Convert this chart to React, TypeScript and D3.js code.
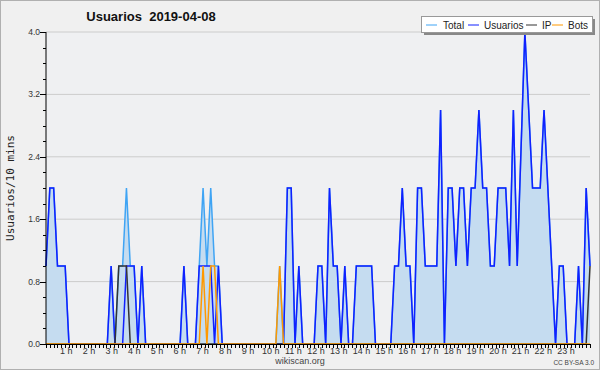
import React from "react";
import * as d3 from "d3";

const usuarios = [
  1,2,2,1,1,1,0,0,0,0,
  0,0,0,0,0,0,0,1,0,0,
  0,1,1,1,0,1,0,0,0,0,
  0,0,0,0,0,0,1,0,0,0,
  1,1,1,1,0,1,0,0,0,0,
  0,0,0,0,0,0,0,0,0,0,
  0,0,0,2,2,0,1,0,0,0,
  0,1,1,0,2,1,1,0,1,0,
  0,1,1,1,1,1,0,0,0,0,
  0,1,1,2,1,1,0,2,2,1,
  1,1,1,3,0,2,2,1,2,2,
  1,2,2,3,2,2,1,1,2,2,
  2,1,3,1,2.5,4,3,2,2,2,
  3,2,1,0,1,1,0,0,0,1,
  0,2,1,
];
const total = [
  1,2,2,1,1,1,0,0,0,0,
  0,0,0,0,0,0,0,1,0,1,
  1,2,1,1,0,1,0,0,0,0,
  0,0,0,0,0,0,1,0,0,0,
  1,2,1,2,1,1,0,0,0,0,
  0,0,0,0,0,0,0,0,0,0,
  0,1,0,2,2,0,1,0,0,0,
  0,1,1,0,2,1,1,0,1,0,
  0,1,1,1,1,1,0,0,0,0,
  0,1,1,2,1,1,0,2,2,1,
  1,1,1,3,0,2,2,1,2,2,
  1,2,2,3,2,2,1,1,2,2,
  2,1,3,1,2.5,4,3,2,2,2,
  3,2,1,0,1,1,0,0,0,1,
  0,2,1,
];
const ip = [
  0,0,0,0,0,0,0,0,0,0,
  0,0,0,0,0,0,0,0,0,1,
  1,1,0,0,0,0,0,0,0,0,
  0,0,0,0,0,0,0,0,0,0,
  0,0,0,0,0,0,0,0,0,0,
  0,0,0,0,0,0,0,0,0,0,
  0,0,0,0,0,0,0,0,0,0,
  0,0,0,0,0,0,0,0,0,0,
  0,0,0,0,0,0,0,0,0,0,
  0,0,0,0,0,0,0,0,0,0,
  0,0,0,0,0,0,0,0,0,0,
  0,0,0,0,0,0,0,0,0,0,
  0,0,0,0,0,0,0,0,0,0,
  0,0,0,0,0,0,0,0,0,0,
  0,0,1,
];
const bots = [
  0,0,0,0,0,0,0,0,0,0,
  0,0,0,0,0,0,0,0,0,0,
  0,0,0,0,0,0,0,0,0,0,
  0,0,0,0,0,0,0,0,0,0,
  0,1,0,1,1,0,0,0,0,0,
  0,0,0,0,0,0,0,0,0,0,
  0,1,0,0,0,0,0,0,0,0,
  0,0,0,0,0,0,0,0,0,0,
  0,0,0,0,0,0,0,0,0,0,
  0,0,0,0,0,0,0,0,0,0,
  0,0,0,0,0,0,0,0,0,0,
  0,0,0,0,0,0,0,0,0,0,
  0,0,0,0,0,0,0,0,0,0,
  0,0,0,0,0,0,0,0,0,0,
  0,0,0,
];
const yTicks = [0, 0.8, 1.6, 2.4, 3.2, 4.0];
const hourLabels = d3.range(1, 24).map((h) => `${h} h`);
const legendItems = ["Total", "Usuarios", "IP", "Bots"];
const title = "Usuarios  2019-04-08";

const W = 600, H = 370;
const L = 46, R = 590, T = 32, B = 344;
const font = "Liberation Sans, Arial, sans-serif";
const colors: Record<string, string> = {
  Total: "#3fa4f4",
  Usuarios: "#1020ff",
  IP: "#333333",
  Bots: "#ff9900",
};

export default function App() {
  const x = d3.scaleLinear().domain([0, usuarios.length - 1]).range([L, R]);
  const y = d3.scaleLinear().domain([0, 4]).range([B, T]);
  const xh = d3.scaleLinear().domain([0, 24]).range([43.5, 43.5 + 24 * 22.72]);
  const xm = d3.scaleLinear().domain([0, 144]).range([L, R]);
  const line = d3.line<number>().x((_, i) => x(i)).y((d) => y(d));
  const area = d3.area<number>().x((_, i) => x(i)).y0(B).y1((d) => y(d));
  const series: [string, number[]][] = [
    ["Total", total],
    ["Usuarios", usuarios],
    ["IP", ip],
    ["Bots", bots],
  ];
  const minorY = d3.range(0, 4.0001, 0.2);
  const legendX = [426, 468, 526, 552];
  const legendTextX = [443, 484, 542, 568];
  return (
    <svg width={W} height={H} style={{ position: "absolute", left: 0, top: 0 }}>
      <rect x={0.5} y={0.5} width={W - 1} height={H - 1} fill="#f0f0f0" stroke="#b0b0b0" />
      <rect x={L} y={T} width={R - L} height={B - T} fill="#eff0f2" />
      {yTicks.slice(1).map((t) => (
        <line key={t} x1={L} x2={R} y1={y(t)} y2={y(t)} stroke="#cccccc" strokeWidth={1} />
      ))}
      <path d={area(total) || ""} fill="#c5dcf0" />
      {series.map(([name, data]) => (
        <path key={name} d={line(data) || ""} fill="none" stroke={colors[name]} strokeWidth={1.5} strokeLinejoin="miter" />
      ))}
      <line x1={L} x2={L} y1={T} y2={B} stroke="#000" />
      <line x1={L} x2={R} y1={B + 0.5} y2={B + 0.5} stroke="#000" />
      {minorY.map((t) => (
        <line key={t} x1={L - 3} x2={L} y1={Math.round(y(t)) + 0.5} y2={Math.round(y(t)) + 0.5} stroke="#000" />
      ))}
      {yTicks.map((t) => (
        <g key={t}>
          <line x1={L - 6} x2={L} y1={Math.round(y(t)) + 0.5} y2={Math.round(y(t)) + 0.5} stroke="#000" />
          <text x={L - 6} y={y(t) + 3} textAnchor="end" fontSize={8.5} fontFamily={font} fill="#333">
            {t.toFixed(1)}
          </text>
        </g>
      ))}
      {d3.range(0, 145).map((i) => (
        <line key={i} x1={Math.round(xm(i)) + 0.5} x2={Math.round(xm(i)) + 0.5} y1={B} y2={B + 4} stroke="#000" />
      ))}
      {hourLabels.map((lab, k) => (
        <text key={lab} x={xh(k + 1)} y={354} textAnchor="middle" fontSize={9} fontFamily={font} fill="#333">
          {lab}
        </text>
      ))}
      <text x={300} y={364} textAnchor="middle" fontSize={9} fontFamily={font} fill="#444">wikiscan.org</text>
      <text x={594} y={365} textAnchor="end" fontSize={6.5} fontFamily={font} fill="#444">CC BY-SA 3.0</text>
      <text x={151} y={21} textAnchor="middle" fontSize={13} fontWeight="bold" fontFamily={font} fill="#111" style={{ whiteSpace: "pre" }}>
        {title}
      </text>
      <text transform={`translate(14,${(T + B) / 2}) rotate(-90)`} textAnchor="middle" fontSize={11} fontFamily="DejaVu Sans Mono, monospace" fill="#222">
        Usuarios/10 mins
      </text>
      <rect x={424} y={19} width={171} height={16} fill="#888" />
      <rect x={421.5} y={16.5} width={171} height={16} fill="#fff" stroke="#999" />
      {legendItems.map((name, k) => (
        <g key={name}>
          <line x1={legendX[k]} x2={legendX[k] + 11} y1={25} y2={25} stroke={colors[name]} strokeWidth={1} />
          <text x={legendTextX[k]} y={29} fontSize={10} fontFamily={font} fill="#222">{name}</text>
        </g>
      ))}
    </svg>
  );
}
